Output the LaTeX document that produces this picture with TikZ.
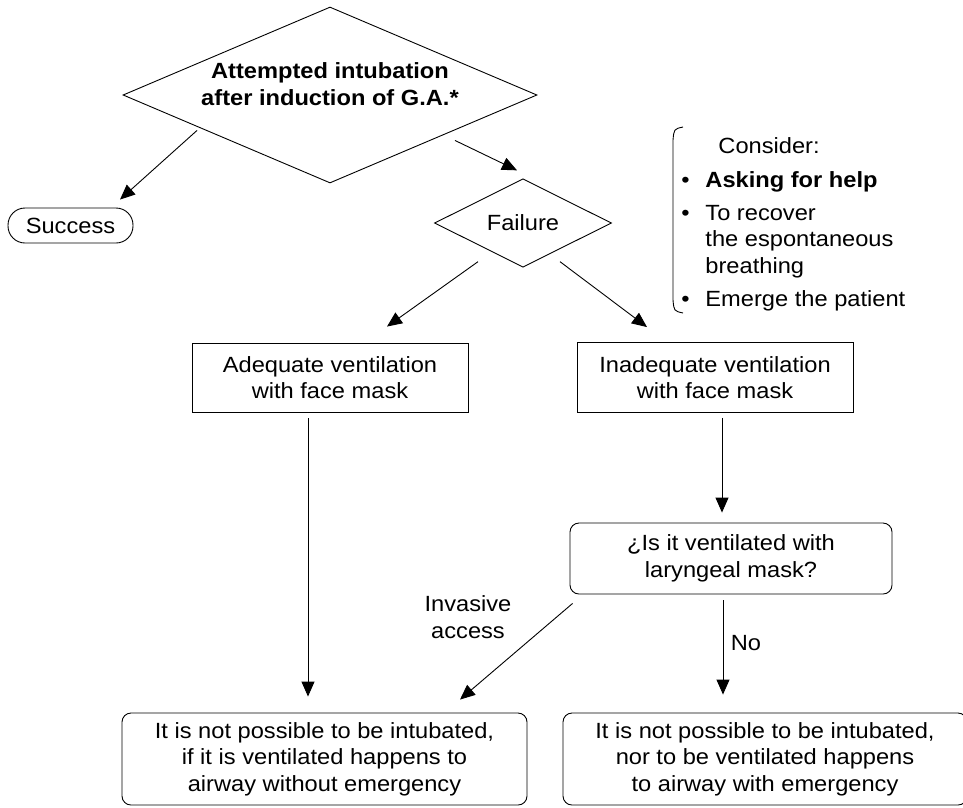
\documentclass[tikz,border=0pt]{standalone}
\usepackage{fontspec}
\setmainfont{Liberation Sans}[FakeStretch=1.075]
\usetikzlibrary{shapes.geometric,arrows.meta}
\begin{document}
\begin{tikzpicture}[x=1pt,y=-1pt,line width=0.9pt,
  every node/.style={font=\fontsize{22}{26.5}\selectfont},
  arr/.style={-{Triangle[length=15pt,width=13pt]}},
  dia/.style={draw,diamond,inner sep=0pt,align=center},
  sqbox/.style={draw,rectangle,inner sep=0pt,align=center},
  rbox/.style={draw,rectangle,rounded corners=9pt,inner sep=0pt,align=center},
  pill/.style={draw,rectangle,rounded corners=17pt,inner sep=0pt,align=center},
  plain/.style={inner sep=0pt,align=center},
  item/.style={inner sep=0pt,anchor=base west}]
\useasboundingbox (0,0) rectangle (963,807);

% nodes
\node[dia,minimum width=414pt,minimum height=176pt,
  label={[plain,font=\fontsize{22}{26.5}\selectfont\bfseries,yshift=11pt]center:{Attempted intubation\\after induction of G.A.*}}]
  (att) at (330,95) {};
\node[pill,minimum width=125pt,minimum height=35pt] (succ) at (70.5,225.5) {Success};
\node[dia,minimum width=177pt,minimum height=56pt] (fail) at (523,223) {Failure};
\node[sqbox,minimum width=276pt,minimum height=69pt] (adeq) at (330,377.5) {Adequate ventilation\\with face mask};
\node[sqbox,minimum width=276pt,minimum height=70pt] (inad) at (715,377.5) {Inadequate ventilation\\with face mask};
\node[rbox,minimum width=322pt,minimum height=71pt] (lar) at (731,558.5) {¿Is it ventilated with\\laryngeal mask?};
\node[rbox,minimum width=405pt,minimum height=92pt] (botl) at (324.5,759) {It is not possible to be intubated,\\if it is ventilated happens to\\airway without emergency};
\node[rbox,minimum width=404pt,minimum height=92pt] (botr) at (765,759) {It is not possible to be intubated,\\nor to be ventilated happens\\to airway with emergency};

\node[plain] (inv) at (468,617) {Invasive\\access};
\node[plain] (no) at (746,643) {No};

% consider block
\node[item] (c0) at (718,153) {Consider:};
\node[item] (c1) at (681,187) {\makebox[24pt][l]{•}\textbf{Asking for help}};
\node[item] (c2) at (681,220) {\makebox[24pt][l]{•}To recover};
\node[item] (c3) at (705,246) {the espontaneous};
\node[item] (c4) at (705,273) {breathing};
\node[item] (c5) at (681,306) {\makebox[24pt][l]{•}Emerge the patient};
\draw (683,127) .. controls (674,129) .. (673,140) -- (673,300) .. controls (674,311) .. (683,313);

% connectors
\draw[arr] ([shift={(-133,-53)}]att.south) -- ([shift={(49.5,-8)}]succ.north);
\draw[arr] ([shift={(125,-43)}]att.south) -- ([shift={(-6,-8)}]fail.north);
\draw[arr] ([shift={(-45,-6)}]fail.south) -- ([shift={(57,-16)}]adeq.north);
\draw[arr] ([shift={(37,-6)}]fail.south) -- ([shift={(-68,-15)}]inad.north);
\draw[arr] ([shift={(-22,6)}]adeq.south) -- ([shift={(-16.5,-16)}]botl.north);
\draw[arr] ([shift={(7,5)}]inad.south) -- ([shift={(-9,-10)}]lar.north);
\draw[arr] ([shift={(3,9)}]lar.south west) -- ([shift={(135.5,-13)}]botl.north);
\draw[arr] ([shift={(-8,6)}]lar.south) -- ([shift={(-42,-18)}]botr.north);
\end{tikzpicture}
\end{document}
